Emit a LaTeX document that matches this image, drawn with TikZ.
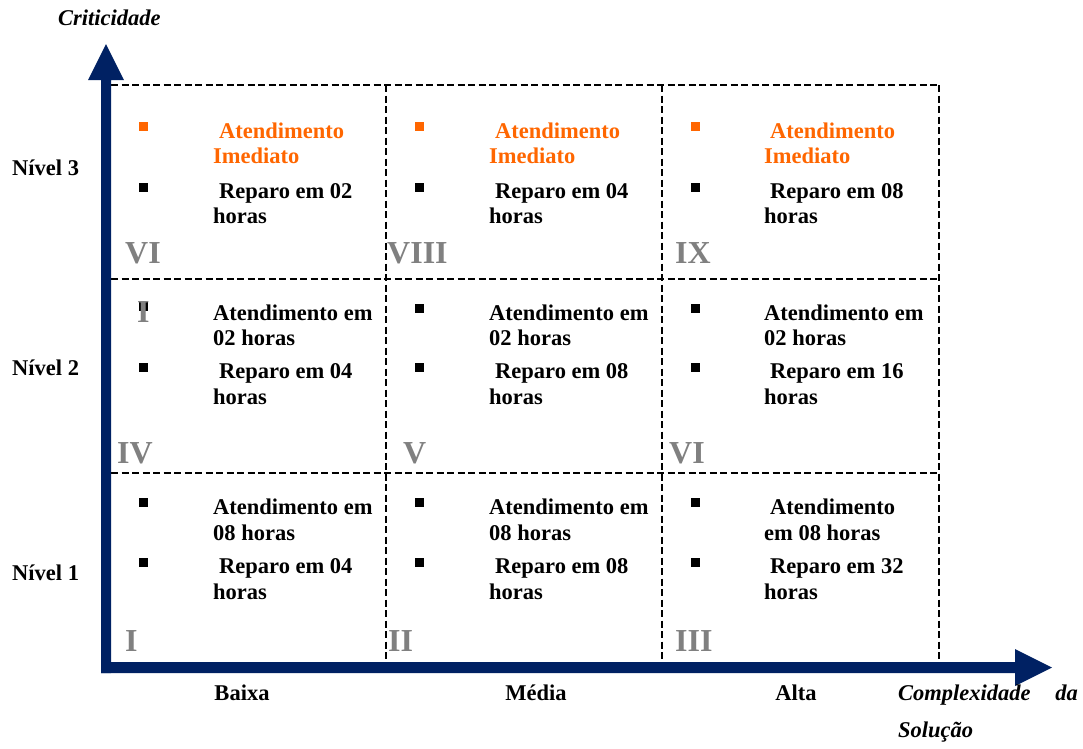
\documentclass[tikz,border=0pt]{standalone}
\usepackage{fontspec}
\setmainfont{Liberation Serif}
\definecolor{axisblue}{RGB}{0,33,99}
\definecolor{numgray}{RGB}{128,128,128}
\definecolor{orng}{RGB}{255,102,0}
\tikzset{
  txt/.style={anchor=base west,inner sep=0pt,font=\fontsize{22.5}{26}\selectfont\bfseries},
  otxt/.style={txt,text=orng},
  num/.style={anchor=base west,inner sep=0pt,text=numgray,font=\fontsize{32}{36}\selectfont\bfseries},
  bul/.style={rectangle,fill=black,minimum size=9pt,inner sep=0pt},
  obul/.style={bul,fill=orng},
  lvl/.style={anchor=base west,inner sep=0pt,font=\fontsize{22.5}{26}\selectfont\bfseries},
  axlab/.style={anchor=base,inner sep=0pt,font=\fontsize{22.5}{26}\selectfont\bfseries},
  itl/.style={inner sep=0pt,font=\fontsize{22.5}{26}\selectfont\bfseries\itshape},
  grid/.style={draw=black,line width=1.6pt,dash pattern=on 7pt off 3.5pt},
  axisfill/.style={fill=axisblue,draw=none}
}
\begin{document}
\begin{tikzpicture}[x=1pt,y=-1pt]
\useasboundingbox (0,0) rectangle (1083,748);
% grid
\draw[grid] (111,85) -- (939,85);
\draw[grid] (111,279) -- (939,279);
\draw[grid] (111,473) -- (939,473);
\draw[grid] (386,85) -- (386,667);
\draw[grid] (662,85) -- (662,667);
\draw[grid] (939,85) -- (939,667);
% axes
\coordinate (vtip) at (106,44);
\coordinate (htip) at (1052,667.5);
\fill[axisfill] (101,673) -- (101,80) -- (88,80) -- (vtip) -- (124,80) -- (111,80) -- (111,673) -- cycle;
\fill[axisfill] (101,662) -- (1015,662) -- (1015,649) -- (htip) -- (1015,686) -- (1015,673) -- (101,673) -- cycle;
% axis labels
\node[itl,anchor=base west] (crit) at (58,25) {Criticidade};
\node[lvl] (n3) at (12,175) {Nível 3};
\node[lvl] (n2) at (12,375) {Nível 2};
\node[lvl] (n1) at (12,580) {Nível 1};
\node[axlab] (baixa) at (242,700) {Baixa};
\node[axlab] (media) at (536,700) {Média};
\node[axlab] (alta) at (796,700) {Alta};
\node[itl,anchor=base west] (compl) at (898,700) {Complexidade};
\node[itl,anchor=base east] (da) at (1078,700) {da};
\node[itl,anchor=base west] (sol) at (898,737) {Solução};
% ---------- row 3 ----------
\node[obul] (b31a) at (143.5,126) {};
\node[bul] (b31b) at (143.5,187) {};
\node[otxt] (t31a) at (219,138) {Atendimento};
\node[otxt] (t31b) at (213,163) {Imediato};
\node[txt] (t31c) at (219,198) {Reparo em 02};
\node[txt] (t31d) at (213,223) {horas};
\node[num] (r31) at (125,263) {VI};
\node[obul] (b32a) at (419.5,126) {};
\node[bul] (b32b) at (419.5,187) {};
\node[otxt] (t32a) at (495,138) {Atendimento};
\node[otxt] (t32b) at (489,163) {Imediato};
\node[txt] (t32c) at (495,198) {Reparo em 04};
\node[txt] (t32d) at (489,223) {horas};
\node[num] (r32) at (387,263) {VIII};
\node[obul] (b33a) at (695.5,126) {};
\node[bul] (b33b) at (695.5,187) {};
\node[otxt] (t33a) at (770,138) {Atendimento};
\node[otxt] (t33b) at (764,163) {Imediato};
\node[txt] (t33c) at (770,198) {Reparo em 08};
\node[txt] (t33d) at (764,223) {horas};
\node[num] (r33) at (675,263) {IX};
% ---------- row 2 ----------
\node[bul] (b21a) at (143.5,306) {};
\node[bul] (b21b) at (143.5,367) {};
\node[txt] (t21a) at (213,320) {Atendimento em};
\node[txt] (t21b) at (213,345) {02 horas};
\node[txt] (t21c) at (219,378) {Reparo em 04};
\node[txt] (t21d) at (213,404) {horas};
\node[num] (rx) at (137,322) {I};
\node[num] (r21) at (117,463) {IV};
\node[bul] (b22a) at (419.5,308) {};
\node[bul] (b22b) at (419.5,367) {};
\node[txt] (t22a) at (489,320) {Atendimento em};
\node[txt] (t22b) at (489,345) {02 horas};
\node[txt] (t22c) at (495,378) {Reparo em 08};
\node[txt] (t22d) at (489,404) {horas};
\node[num] (r22) at (403,463) {V};
\node[bul] (b23a) at (695.5,308) {};
\node[bul] (b23b) at (695.5,367) {};
\node[txt] (t23a) at (764,320) {Atendimento em};
\node[txt] (t23b) at (764,345) {02 horas};
\node[txt] (t23c) at (770,378) {Reparo em 16};
\node[txt] (t23d) at (764,404) {horas};
\node[num] (r23) at (669,463) {VI};
% ---------- row 1 ----------
\node[bul] (b11a) at (143.5,502) {};
\node[bul] (b11b) at (143.5,562) {};
\node[txt] (t11a) at (213,514) {Atendimento em};
\node[txt] (t11b) at (213,540) {08 horas};
\node[txt] (t11c) at (219,573) {Reparo em 04};
\node[txt] (t11d) at (213,599) {horas};
\node[num] (r11) at (125,651) {I};
\node[bul] (b12a) at (419.5,502) {};
\node[bul] (b12b) at (419.5,562) {};
\node[txt] (t12a) at (489,514) {Atendimento em};
\node[txt] (t12b) at (489,540) {08 horas};
\node[txt] (t12c) at (495,573) {Reparo em 08};
\node[txt] (t12d) at (489,599) {horas};
\node[num] (r12) at (388,651) {II};
\node[bul] (b13a) at (695.5,502) {};
\node[bul] (b13b) at (695.5,562) {};
\node[txt] (t13a) at (770,514) {Atendimento};
\node[txt] (t13b) at (764,540) {em 08 horas};
\node[txt] (t13c) at (770,573) {Reparo em 32};
\node[txt] (t13d) at (764,599) {horas};
\node[num] (r13) at (675,651) {III};
\end{tikzpicture}
\end{document}
